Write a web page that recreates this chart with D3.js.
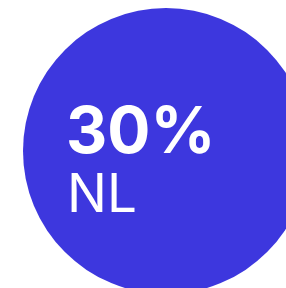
<!DOCTYPE html>
<html>
<head>
<meta charset="utf-8">
<script src="https://cdn.jsdelivr.net/npm/d3@7"></script>
<style>
  body { margin: 0; background: #fff; }
  svg { display: block; }
</style>
</head>
<body>
<div id="chart"></div>
<script>
var countries = ['NL']
var shares = [30]

var w = 286
var h = 288

var svg = d3.select('#chart')
  .append('svg')
  .attr('width', w)
  .attr('height', h)

// bubble size from the share
var r = d3.scaleSqrt()
  .domain([0, 30])
  .range([0, 143])

var format = function(d) { return d + '%' }

var bubble = svg.selectAll('.bubble')
  .data(countries.map(function(c, i) { return { country: c, share: shares[i] } }))
  .enter().append('g')
  .attr('class', 'bubble')
  .attr('transform', 'translate(166,151)')

bubble.append('circle')
  .attr('r', function(d) { return r(d.share) })
  .attr('fill', '#3d37de')

bubble.append('text')
  .attr('x', -100)
  .attr('y', 2)
  .attr('fill', '#fff')
  .style('font-family', 'Inter, sans-serif')
  .style('font-weight', 700)
  .style('font-size', '64px')
  .text(function(d) { return format(d.share) })

bubble.append('text')
  .attr('x', -99)
  .attr('y', 61)
  .attr('fill', '#fff')
  .style('font-family', 'Inter, sans-serif')
  .style('font-weight', 400)
  .style('font-size', '53px')
  .text(function(d) { return d.country })
</script>
</body>
</html>
